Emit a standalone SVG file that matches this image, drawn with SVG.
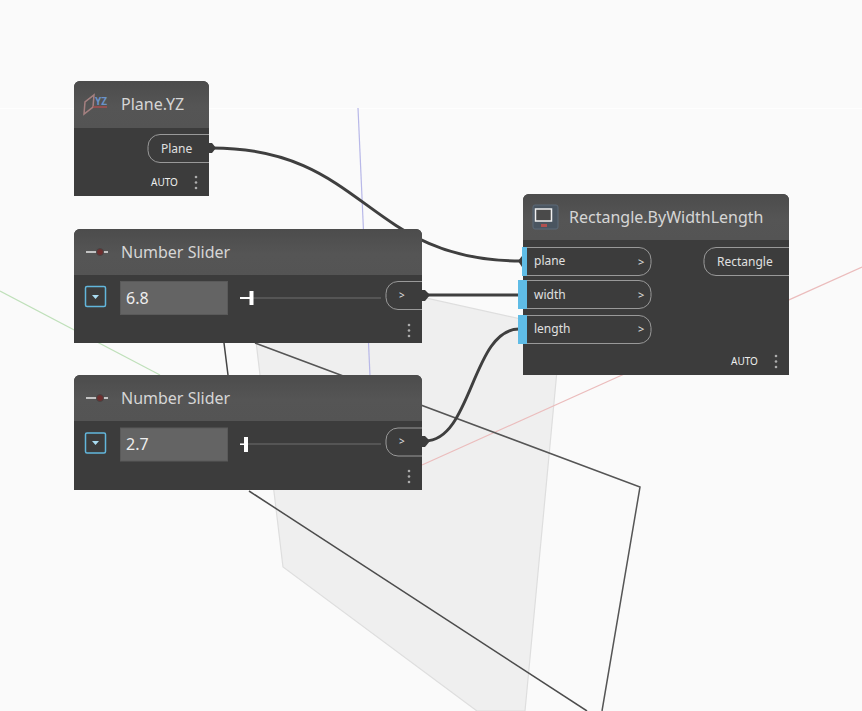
<svg xmlns="http://www.w3.org/2000/svg" width="862" height="711" viewBox="0 0 862 711">
<defs>
<linearGradient id="hg" x1="0" y1="0" x2="0" y2="1"><stop offset="0" stop-color="#4c4c4c"/><stop offset="0.55" stop-color="#555555"/><stop offset="1" stop-color="#545454"/></linearGradient>
</defs>
<style>
text{font-family:"Noto Sans","Open Sans","Liberation Sans",sans-serif}
.body{fill:#3c3c3c}
.head{fill:url(#hg)}
.title{fill:#d6d6d6;font-size:16px}
.port{fill:#3c3c3c;stroke:#999999;stroke-width:1}
.lbl{fill:#e0e0e0;font-size:12px}
.gt{fill:#e0e0e0;font-size:10px}
.auto{fill:#eeeeee;font-size:10px}
.dot{fill:#adadad}
.wire{fill:none;stroke:#3f3f3f;stroke-width:3}
.tip{fill:#3c3c3c}
.blue{fill:#5fbce6}
.val{fill:#646464;stroke:#5a5a5a}
.valt{fill:#eeeeee;font-size:16px}
.track{stroke:#6e6e6e;stroke-width:1}
.thumb{fill:#ffffff}
.drop{fill:none;stroke:#62b6dc;stroke-width:1.5}
</style>
<rect width="862" height="711" fill="#fafafa"/>
<rect x="0" y="108" width="862" height="1" fill="#fefefe"/>
<g id="scene">
<polygon points="246,258 283,567 477,711 525,711 561,328" fill="#efefef" stroke="#dedede" stroke-width="1.200"/>
<line x1="0" y1="291" x2="160" y2="375" stroke="#bfe0ba" stroke-width="1.200"/>
<line x1="862" y1="267" x2="422" y2="465" stroke="#ebbcbc" stroke-width="1.200"/>
<line x1="358" y1="108" x2="370" y2="376" stroke="#b8b8e8" stroke-width="1.200"/>
<polyline points="255,343 640,487 602,711" fill="none" stroke="#555555" stroke-width="1.500"/>
<line x1="249" y1="491" x2="587" y2="711" stroke="#4c4c4c" stroke-width="1.500"/>
<line x1="224" y1="343" x2="228" y2="375" stroke="#444444" stroke-width="1.500"/>
</g>
<g id="connectors">
<path class="wire" d="M212,148 C366,148 366,261 521,261"/>
<path class="wire" d="M425,295 H519"/>
<path class="wire" d="M425,441 C472,441 472,329 519,329"/>
</g>
<g id="node-plane">
<path class="body" d="M74,87 a6,6 0 0 1 6,-6 H203 a6,6 0 0 1 6,6 V196 H74 Z"/>
<path class="head" d="M74,87 a6,6 0 0 1 6,-6 H203 a6,6 0 0 1 6,6 V128 H74 Z"/>
<path d="M84,114 L85,102 L94,95 L93,107 Z" fill="none" stroke="#a58080" stroke-width="1.500"/>
<line x1="93" y1="107" x2="107" y2="107" stroke="#a85050" stroke-width="1.500"/>
<text x="95" y="105" fill="#6a93c8" font-size="10" font-weight="700">YZ</text>
<text class="title" x="121" y="110">Plane.YZ</text>
<path class="port" d="M209,134.500 H160 a12,12 0 0 0 -12,12 v4 a12,12 0 0 0 12,12 H209"/>
<text class="lbl" x="161" y="153">Plane</text>
<path class="tip" d="M208,143 L212,143 L216,148 L212,153 L208,153 Z"/>
<text class="auto" x="151" y="186">AUTO</text>
<circle class="dot" cx="196" cy="177" r="1.300"/><circle class="dot" cx="196" cy="182.500" r="1.300"/><circle class="dot" cx="196" cy="188" r="1.300"/>
</g>
<g id="node-slider-1">
<path class="body" d="M74,235 a6,6 0 0 1 6,-6 H416 a6,6 0 0 1 6,6 V343 H74 Z"/>
<path class="head" d="M74,235 a6,6 0 0 1 6,-6 H416 a6,6 0 0 1 6,6 V275 H74 Z"/>
<line x1="86" y1="252" x2="108" y2="252" stroke="#e8e8e8" stroke-width="1.500"/>
<circle cx="100" cy="252" r="3.500" fill="#6e2e2e" stroke="#444444"/>
<text class="title" x="121" y="258">Number Slider</text>
<rect class="drop" x="85.500" y="286.500" width="20" height="20" rx="1.500"/>
<path d="M92,295 h7 l-3.500,4 Z" fill="#a9dcf2"/>
<rect class="val" x="120.500" y="281.500" width="107" height="33"/>
<text class="valt" x="126" y="304">6.8</text>
<line class="track" x1="240" y1="298" x2="381" y2="298"/>
<rect class="thumb" x="240" y="297" width="12" height="2"/>
<rect class="thumb" x="249.500" y="291" width="4" height="14"/>
<path class="port" d="M422,281.500 H398 a12,12 0 0 0 -12,12 v4 a12,12 0 0 0 12,12 H422"/>
<text class="gt" x="399" y="299">&gt;</text>
<path class="tip" d="M422,290 L425,290 L430,295 L425,301 L422,301 Z"/>
<circle class="dot" cx="409" cy="325" r="1.300"/><circle class="dot" cx="409" cy="330.500" r="1.300"/><circle class="dot" cx="409" cy="336" r="1.300"/>
</g>
<g id="node-slider-2">
<path class="body" d="M74,381 a6,6 0 0 1 6,-6 H416 a6,6 0 0 1 6,6 V490 H74 Z"/>
<path class="head" d="M74,381 a6,6 0 0 1 6,-6 H416 a6,6 0 0 1 6,6 V421 H74 Z"/>
<line x1="86" y1="398" x2="108" y2="398" stroke="#e8e8e8" stroke-width="1.500"/>
<circle cx="100" cy="398" r="3.500" fill="#6e2e2e" stroke="#444444"/>
<text class="title" x="121" y="404">Number Slider</text>
<rect class="drop" x="85.500" y="433" width="20" height="20" rx="1.500"/>
<path d="M92,441 h7 l-3.500,4 Z" fill="#a9dcf2"/>
<rect class="val" x="120.500" y="428" width="107" height="33"/>
<text class="valt" x="126" y="450">2.7</text>
<line class="track" x1="240" y1="444" x2="381" y2="444"/>
<rect class="thumb" x="240" y="443.500" width="5" height="1.500"/>
<rect class="thumb" x="244" y="437" width="4" height="15"/>
<path class="port" d="M422,428 H398 a12,12 0 0 0 -12,12 v4 a12,12 0 0 0 12,12 H422"/>
<text class="gt" x="399" y="445">&gt;</text>
<path class="tip" d="M422,436 L425,436 L430,441 L425,447 L422,447 Z"/>
<circle class="dot" cx="409" cy="471" r="1.300"/><circle class="dot" cx="409" cy="476.500" r="1.300"/><circle class="dot" cx="409" cy="482" r="1.300"/>
</g>
<g id="node-rectangle">
<path class="body" d="M523,200 a6,6 0 0 1 6,-6 H783 a6,6 0 0 1 6,6 V375 H523 Z"/>
<path class="head" d="M523,200 a6,6 0 0 1 6,-6 H783 a6,6 0 0 1 6,6 V240 H523 Z"/>
<rect x="533" y="205" width="25" height="24" rx="2" fill="#4a5560" stroke="#5c6a78"/>
<rect x="535.500" y="209" width="16" height="12" fill="#4a4a4a" stroke="#f0f0f0" stroke-width="1.500"/>
<rect x="541" y="224" width="6" height="3" fill="#b05050"/>
<text class="title" x="569" y="223">Rectangle.ByWidthLength</text>
<path class="port" d="M523,247.500 H639 a12,12 0 0 1 12,12 v4 a12,12 0 0 1 -12,12 H523 Z"/>
<path class="port" d="M523,280.500 H639 a12,12 0 0 1 12,12 v4 a12,12 0 0 1 -12,12 H523 Z"/>
<path class="port" d="M523,315.500 H639 a12,12 0 0 1 12,12 v4 a12,12 0 0 1 -12,12 H523 Z"/>
<rect class="blue" x="522" y="247" width="5" height="29"/>
<rect class="blue" x="518" y="280" width="9" height="29"/>
<rect class="blue" x="518" y="315" width="9" height="29"/>
<path class="tip" d="M522,256 L518,261 L522,267 Z"/>
<text class="lbl" x="534" y="265">plane</text>
<text class="lbl" x="534" y="299">width</text>
<text class="lbl" x="534" y="333">length</text>
<text class="lbl" x="638" y="266" style="font-size:11px">&gt;</text>
<text class="lbl" x="638" y="299" style="font-size:11px">&gt;</text>
<text class="lbl" x="638" y="333" style="font-size:11px">&gt;</text>
<path class="port" d="M789,247.500 H716 a12,12 0 0 0 -12,12 v4 a12,12 0 0 0 12,12 H789"/>
<text class="lbl" x="717" y="266">Rectangle</text>
<text class="auto" x="731" y="365">AUTO</text>
<circle class="dot" cx="776" cy="356" r="1.300"/><circle class="dot" cx="776" cy="361.500" r="1.300"/><circle class="dot" cx="776" cy="367" r="1.300"/>
</g>
</svg>
